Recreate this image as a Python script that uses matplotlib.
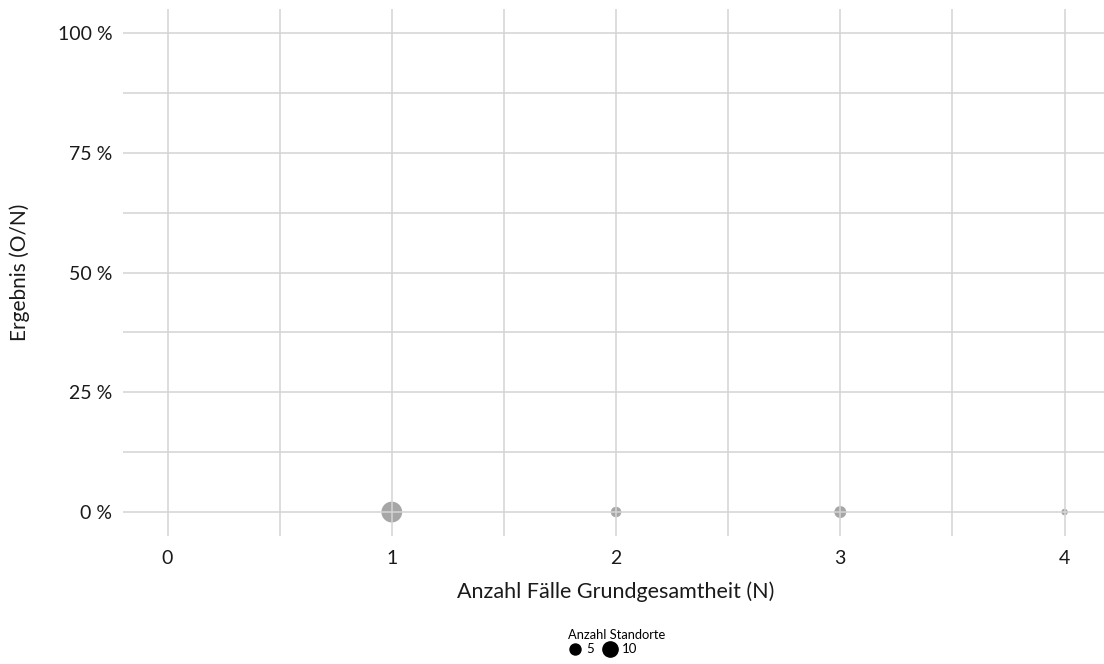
import matplotlib
matplotlib.use("Agg")
import matplotlib.pyplot as plt
from matplotlib.ticker import MultipleLocator, FuncFormatter
from matplotlib.lines import Line2D

plt.rcParams['font.family'] = ['Lato', 'DejaVu Sans']

# Data
n_cases = [1, 2, 3, 4]
result = [0.0, 0.0, 0.0, 0.0]
n_sites = [13, 3, 4, 1]
legend_sizes = [5, 10]
x_ticks = [0, 1, 2, 3, 4]
y_ticks = [0, 0.25, 0.5, 0.75, 1.0]

W, H = 1104, 664
fig = plt.figure(figsize=(W / 100, H / 100), dpi=100)

px_per_unit = 224.25
x0_px = 122.7
ax_w_px = 4.4 * px_per_unit
top_px, bot_px = 9, 536
ax = fig.add_axes([x0_px / W, 1 - bot_px / H, ax_w_px / W, (bot_px - top_px) / H])


def diam_px(c):
    # marker diameter in pixels, area-like scaling
    return 0.78 + 4.22 * c ** 0.5


grid_c = '#d4d4d4'
ax.scatter(n_cases, result, s=[(diam_px(c) * 0.72 * 1.3) ** 2 for c in n_sites],
           color='#a6a6a6', edgecolors='none', zorder=1, clip_on=False)

ax.set_xlim(-0.2, 4.2)
ax.set_ylim(-0.05, 1.05)
ax.set_xticks(x_ticks)
ax.set_yticks(y_ticks)
ax.xaxis.set_minor_locator(MultipleLocator(0.5))
ax.yaxis.set_minor_locator(MultipleLocator(0.125))
ax.yaxis.set_major_formatter(FuncFormatter(lambda v, p: f"{int(round(v * 100))} %"))
ax.grid(True, which='both', color=grid_c, linewidth=1.4, alpha=0.8, zorder=2)
ax.set_axisbelow(False)
for s in ax.spines.values():
    s.set_visible(False)
ax.tick_params(which='both', length=0)
ax.tick_params(axis='y', labelsize=14, colors='#1a1a1a', pad=7.5)
ax.tick_params(axis='x', labelsize=14, colors='#1a1a1a', pad=10)
ax.set_facecolor('white')

fig.text(616 / W, 1 - 592 / H, 'Anzahl Fälle Grundgesamtheit (N)', ha='center', va='center',
         fontsize=15.5, color='#1a1a1a')
fig.text(20 / W, 1 - 272 / H, 'Ergebnis (O/N)', ha='center', va='center', rotation=90,
         fontsize=15, color='#1a1a1a')

handles = [Line2D([], [], linestyle='none', marker='o', color='black',
                  markersize=diam_px(v) * 0.72 * 1.08) for v in legend_sizes]
leg = fig.legend(handles, [str(v) for v in legend_sizes], title='Anzahl Standorte',
                 loc='center', bbox_to_anchor=(617 / W, 1 - 642 / H), ncol=2, frameon=False,
                 fontsize=9.5, title_fontsize=9.3, handletextpad=0.35, columnspacing=0.75,
                 handlelength=1.0, borderpad=0, labelspacing=0.2, alignment='left')

fig.savefig('out.png', dpi=100)
